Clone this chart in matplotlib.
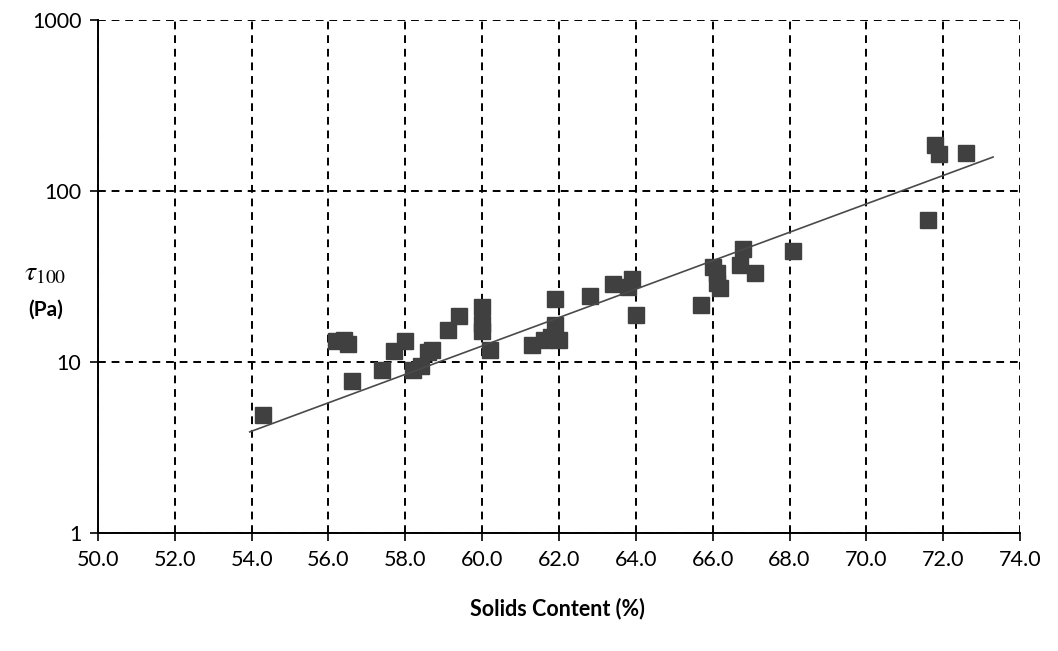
import numpy as np
import matplotlib.pyplot as plt
from matplotlib.ticker import FixedLocator, FuncFormatter, NullLocator

# data
solids = [54.3, 56.2, 56.4, 56.5, 56.6, 57.4, 57.7, 58.0, 58.2, 58.4,
          58.6, 58.7, 59.1, 59.4, 60.0, 60.0, 60.0, 60.2, 61.3, 61.6,
          61.8, 61.9, 61.9, 62.0, 62.8, 63.4, 63.8, 63.9, 64.0, 65.7,
          66.0, 66.1, 66.1, 66.2, 66.7, 66.8, 67.1, 68.1, 71.6, 71.8,
          71.9, 72.6]
tau100 = [4.9, 13.3, 13.5, 12.8, 7.7, 9.0, 11.6, 13.3, 9.0, 9.5,
          11.5, 11.7, 15.4, 18.6, 21.0, 16.7, 15.2, 11.8, 12.6, 13.4,
          14.0, 16.4, 23.4, 13.4, 24.3, 28.6, 27.5, 30.6, 18.8, 21.5,
          36.0, 33.0, 29.0, 27.0, 37.0, 46.0, 33.0, 44.6, 67.8, 186.0,
          164.0, 166.0]

trend_x = [53.95, 73.3]
trend_y = [3.9, 158.0]

x_ticks = [50.0, 52.0, 54.0, 56.0, 58.0, 60.0, 62.0, 64.0, 66.0, 68.0, 70.0, 72.0, 74.0]
y_ticks = [1, 10, 100, 1000]

tick_font = 'Lato'
plt.rcParams['mathtext.fontset'] = 'stix'

fig = plt.figure(figsize=(10.58, 6.51), dpi=100)
ax = fig.add_axes([0.0926, 0.1813, 0.8715, 0.788])

ax.plot(solids, tau100, linestyle='none', marker='s', markersize=12,
        color='#404040', zorder=3)
ax.plot(trend_x, trend_y, color='#4a4a4a', linewidth=1.2, zorder=4)

ax.set_yscale('log')
ax.set_xlim(50, 74)
ax.set_ylim(1, 1000)
ax.xaxis.set_major_locator(FixedLocator(x_ticks))
ax.yaxis.set_major_locator(FixedLocator(y_ticks))
ax.yaxis.set_minor_locator(NullLocator())
ax.xaxis.set_major_formatter(FuncFormatter(lambda v, p: f"{v:.1f}"))
ax.yaxis.set_major_formatter(FuncFormatter(lambda v, p: f"{v:g}"))

ax.grid(True, which='major', color='black', linestyle=(0, (4, 3)), linewidth=1.4)
ax.set_axisbelow(True)

for side in ['top', 'right']:
    ax.spines[side].set_visible(False)
for side in ['left', 'bottom']:
    ax.spines[side].set_linewidth(1.4)
    ax.spines[side].set_color('black')

ax.tick_params(axis='both', direction='out', length=6, width=1.2,
               labelsize=15.5, pad=6)
for lbl in ax.get_xticklabels() + ax.get_yticklabels():
    lbl.set_fontfamily(tick_font)

# y label: tau_100 (Pa), horizontal like the original
fig.text(0.043, 0.582, r'$\tau_{\mathrm{100}}$', fontsize=20, ha='center', va='center')
fig.text(0.043, 0.525, '(Pa)', fontsize=15, ha='center', va='center',
         fontweight='bold', family=tick_font)

fig.text(0.527, 0.066, 'Solids Content (%)', fontsize=15.5, ha='center',
         va='center', fontweight='bold', family=tick_font)

fig.savefig('out.png', dpi=100)
plt.close(fig)
